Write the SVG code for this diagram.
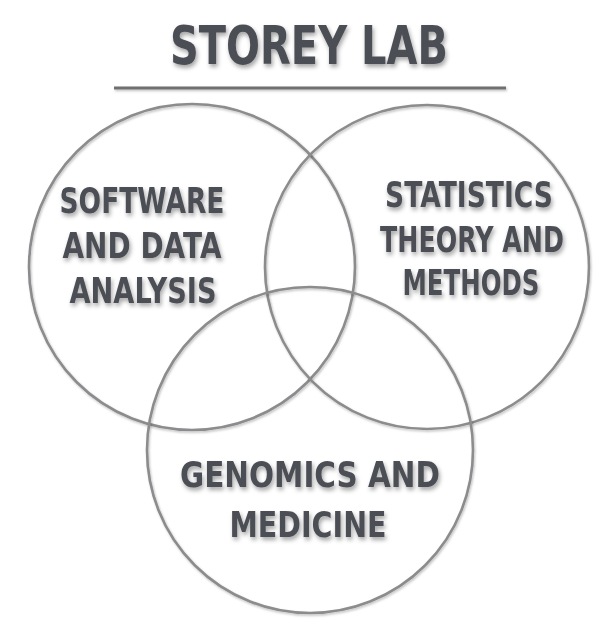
<svg xmlns="http://www.w3.org/2000/svg" width="615" height="635" viewBox="0 0 615 635">
<defs>
<filter id="ts" x="-10%" y="-30%" width="130%" height="170%">
<feDropShadow dx="1.5" dy="3" stdDeviation="2" flood-color="#000" flood-opacity="0.35"/>
</filter>
<filter id="cs" x="-10%" y="-10%" width="120%" height="120%">
<feDropShadow dx="1" dy="1.5" stdDeviation="1.2" flood-color="#000" flood-opacity="0.25"/>
</filter>
<filter id="ls" x="-5%" y="-200%" width="110%" height="500%">
<feDropShadow dx="1" dy="1.5" stdDeviation="1" flood-color="#000" flood-opacity="0.25"/>
</filter>
</defs>
<style>
.ring{fill:none;stroke:#8c8c8e;stroke-width:2.6;filter:url(#cs)}
.lbl{font-family:"DejaVu Sans","Liberation Sans",sans-serif;font-weight:bold;font-size:35px;fill:#4c4f55;text-anchor:middle;filter:url(#ts)}
.title{font-family:"DejaVu Sans","Liberation Sans",sans-serif;font-weight:bold;font-size:54px;fill:#4c4f55;text-anchor:middle;filter:url(#ts)}
</style>
<rect width="615" height="635" fill="#ffffff"/>
<g id="title">
<text class="title" x="309" y="64" textLength="278" lengthAdjust="spacingAndGlyphs">STOREY LAB</text>
<rect x="114" y="86.5" width="392" height="3" fill="#707072" filter="url(#ls)"/>
</g>
<g id="connectors"/>
<g id="software">
<circle class="ring" cx="192" cy="267" r="163"/>
<text class="lbl" x="142" y="213" textLength="165" lengthAdjust="spacingAndGlyphs">SOFTWARE</text>
<text class="lbl" x="142" y="258" textLength="159" lengthAdjust="spacingAndGlyphs">AND DATA</text>
<text class="lbl" x="143" y="303" textLength="147" lengthAdjust="spacingAndGlyphs">ANALYSIS</text>
</g>
<g id="statistics">
<circle class="ring" cx="427" cy="267" r="162"/>
<text class="lbl" x="469" y="207" textLength="168" lengthAdjust="spacingAndGlyphs">STATISTICS</text>
<text class="lbl" x="472" y="252" textLength="184" lengthAdjust="spacingAndGlyphs">THEORY AND</text>
<text class="lbl" x="471" y="295" textLength="137" lengthAdjust="spacingAndGlyphs">METHODS</text>
</g>
<g id="genomics">
<circle class="ring" cx="310" cy="450" r="163"/>
<text class="lbl" x="310" y="487" textLength="260" lengthAdjust="spacingAndGlyphs">GENOMICS AND</text>
<text class="lbl" x="308" y="537" textLength="157" lengthAdjust="spacingAndGlyphs">MEDICINE</text>
</g>
</svg>
